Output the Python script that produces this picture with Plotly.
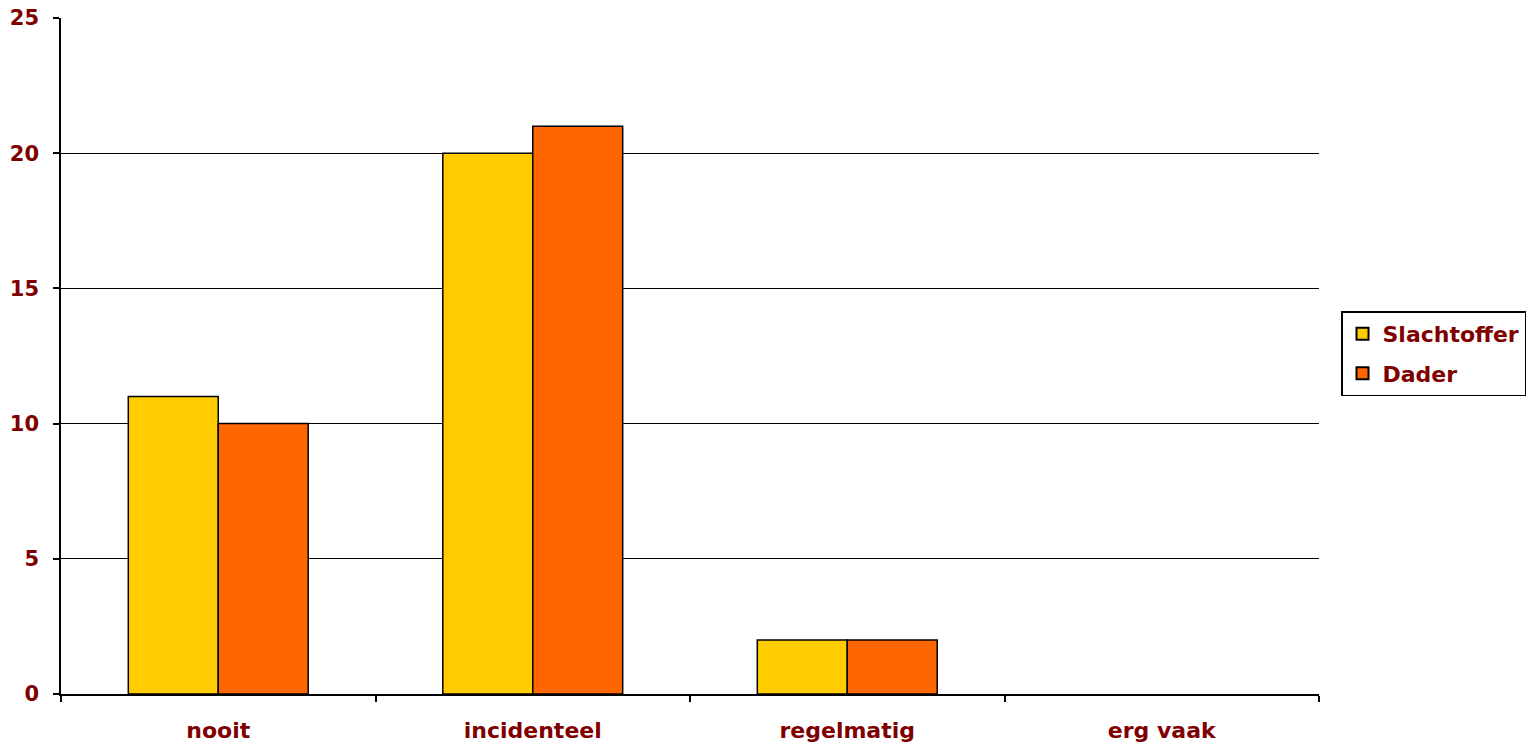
import plotly.graph_objects as go

categories = ["nooit", "incidenteel", "regelmatig", "erg vaak"]
slachtoffer = [11, 20, 2, 0]
dader = [10, 21, 2, 0]
y_ticks = [0, 5, 10, 15, 20, 25]

label_color = "#800000"
font_family = "DejaVu Sans, Verdana, sans-serif"


def outline_widths(values):
    return [1.5 if v > 0 else 0 for v in values]


fig = go.Figure()
fig.add_trace(go.Bar(name="Slachtoffer", x=categories, y=slachtoffer, legendgroup="a",
                     marker=dict(color="#FFCC00",
                                 line=dict(color="#000000", width=outline_widths(slachtoffer)))))
fig.add_trace(go.Bar(name="Dader", x=categories, y=dader, legendgroup="b",
                     marker=dict(color="#FF6600",
                                 line=dict(color="#000000", width=outline_widths(dader)))))

fig.update_layout(
    width=1535, height=747,
    margin=dict(l=53, r=224, t=10, b=61, autoexpand=False),
    paper_bgcolor="white", plot_bgcolor="white",
    barmode="group", bargap=0.428, bargroupgap=0,
    font=dict(family=font_family, color=label_color, size=22, weight="bold"),
    legend=dict(x=1.0175, y=0.503, xanchor="left", yanchor="middle",
                bordercolor="#000000", borderwidth=1.5, bgcolor="white",
                font=dict(size=22, color=label_color, family=font_family, weight="bold"),
                itemsizing="constant", tracegroupgap=8, traceorder="grouped"),
    showlegend=True,
)
fig.update_xaxes(
    automargin=False,
    showline=True, linecolor="#000000", linewidth=1.5,
    ticks="outside", tickson="boundaries", ticklen=6, tickcolor="#000000", tickwidth=1.5,
    showgrid=False, tickfont=dict(size=22, color=label_color, family=font_family, weight="bold"),
    ticklabelstandoff=16, ticklabeloverflow="allow",
)
fig.update_yaxes(
    automargin=False,
    range=[0, 25], tickvals=y_ticks,
    showline=True, linecolor="#000000", linewidth=1.5,
    ticks="outside", ticklen=6, tickcolor="#000000", tickwidth=1.5,
    showgrid=True, gridcolor="#000000", gridwidth=1.3, zeroline=False,
    tickfont=dict(size=21, color=label_color, family=font_family, weight="bold"),
    ticklabelstandoff=10, ticklabeloverflow="allow",
)

fig.write_html("out.html")
